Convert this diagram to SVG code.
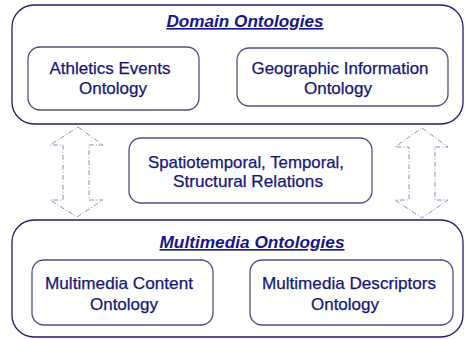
<svg xmlns="http://www.w3.org/2000/svg" width="465" height="339" viewBox="0 0 465 339">
<style>
.outer{fill:#ffffff;stroke:#1e1e6e;stroke-width:1.3}
.inner{fill:#ffffff;stroke:#505080;stroke-width:1.3}
.t{font-family:"Liberation Sans",Arial,sans-serif;font-size:17px;fill:#16167a;stroke:#16167a;stroke-width:0.25;text-anchor:middle}
.title{font-family:"Liberation Sans",Arial,sans-serif;font-size:16px;font-weight:bold;font-style:italic;fill:#16168a;text-anchor:middle;text-decoration:underline}
.arrow{fill:#ffffff;stroke:#8a92b4;stroke-width:1;stroke-dasharray:5 2 1 2}
</style>
<rect width="465" height="339" fill="#ffffff"/>
<g id="domain-ontologies">
<rect class="outer" x="12" y="5" width="451" height="119" rx="22"/>
<text class="title" x="245" y="27" textLength="157" lengthAdjust="spacingAndGlyphs">Domain Ontologies</text>
</g>
<g id="athletics-events-ontology">
<rect class="inner" x="28" y="47" width="171" height="63" rx="12"/>
<text class="t" x="110" y="74" textLength="121" lengthAdjust="spacingAndGlyphs">Athletics Events</text>
<text class="t" x="113" y="94">Ontology</text>
</g>
<g id="geographic-information-ontology">
<rect class="inner" x="237" y="48" width="211" height="58" rx="12"/>
<text class="t" x="340" y="74" textLength="177" lengthAdjust="spacingAndGlyphs">Geographic Information</text>
<text class="t" x="338" y="94">Ontology</text>
</g>
<g id="relations">
<rect class="inner" x="129" y="138" width="243" height="65" rx="12"/>
<text class="t" x="246" y="168" textLength="196" lengthAdjust="spacingAndGlyphs">Spatiotemporal, Temporal,</text>
<text class="t" x="248" y="187" textLength="150" lengthAdjust="spacingAndGlyphs">Structural Relations</text>
</g>
<g id="multimedia-ontologies">
<rect class="outer" x="12" y="220" width="451" height="117" rx="22"/>
<text class="title" x="252" y="248" textLength="185" lengthAdjust="spacingAndGlyphs">Multimedia Ontologies</text>
</g>
<g id="multimedia-content-ontology">
<rect class="inner" x="32" y="260" width="181" height="65" rx="12"/>
<text class="t" x="119" y="289" textLength="148" lengthAdjust="spacingAndGlyphs">Multimedia Content</text>
<text class="t" x="124" y="310">Ontology</text>
</g>
<g id="multimedia-descriptors-ontology">
<rect class="inner" x="250" y="260" width="203" height="65" rx="12"/>
<text class="t" x="349" y="289" textLength="174" lengthAdjust="spacingAndGlyphs">Multimedia Descriptors</text>
<text class="t" x="345" y="310">Ontology</text>
</g>
<g id="connectors">
<polygon class="arrow" points="78,127 103,145 89,145 89,200 103,200 77,217 50,200 63,200 63,145 50,145"/>
<polygon class="arrow" points="422,128 448,147 435,147 435,200 448,200 422,218 395,200 409,200 409,147 395,147"/>
</g>
</svg>
